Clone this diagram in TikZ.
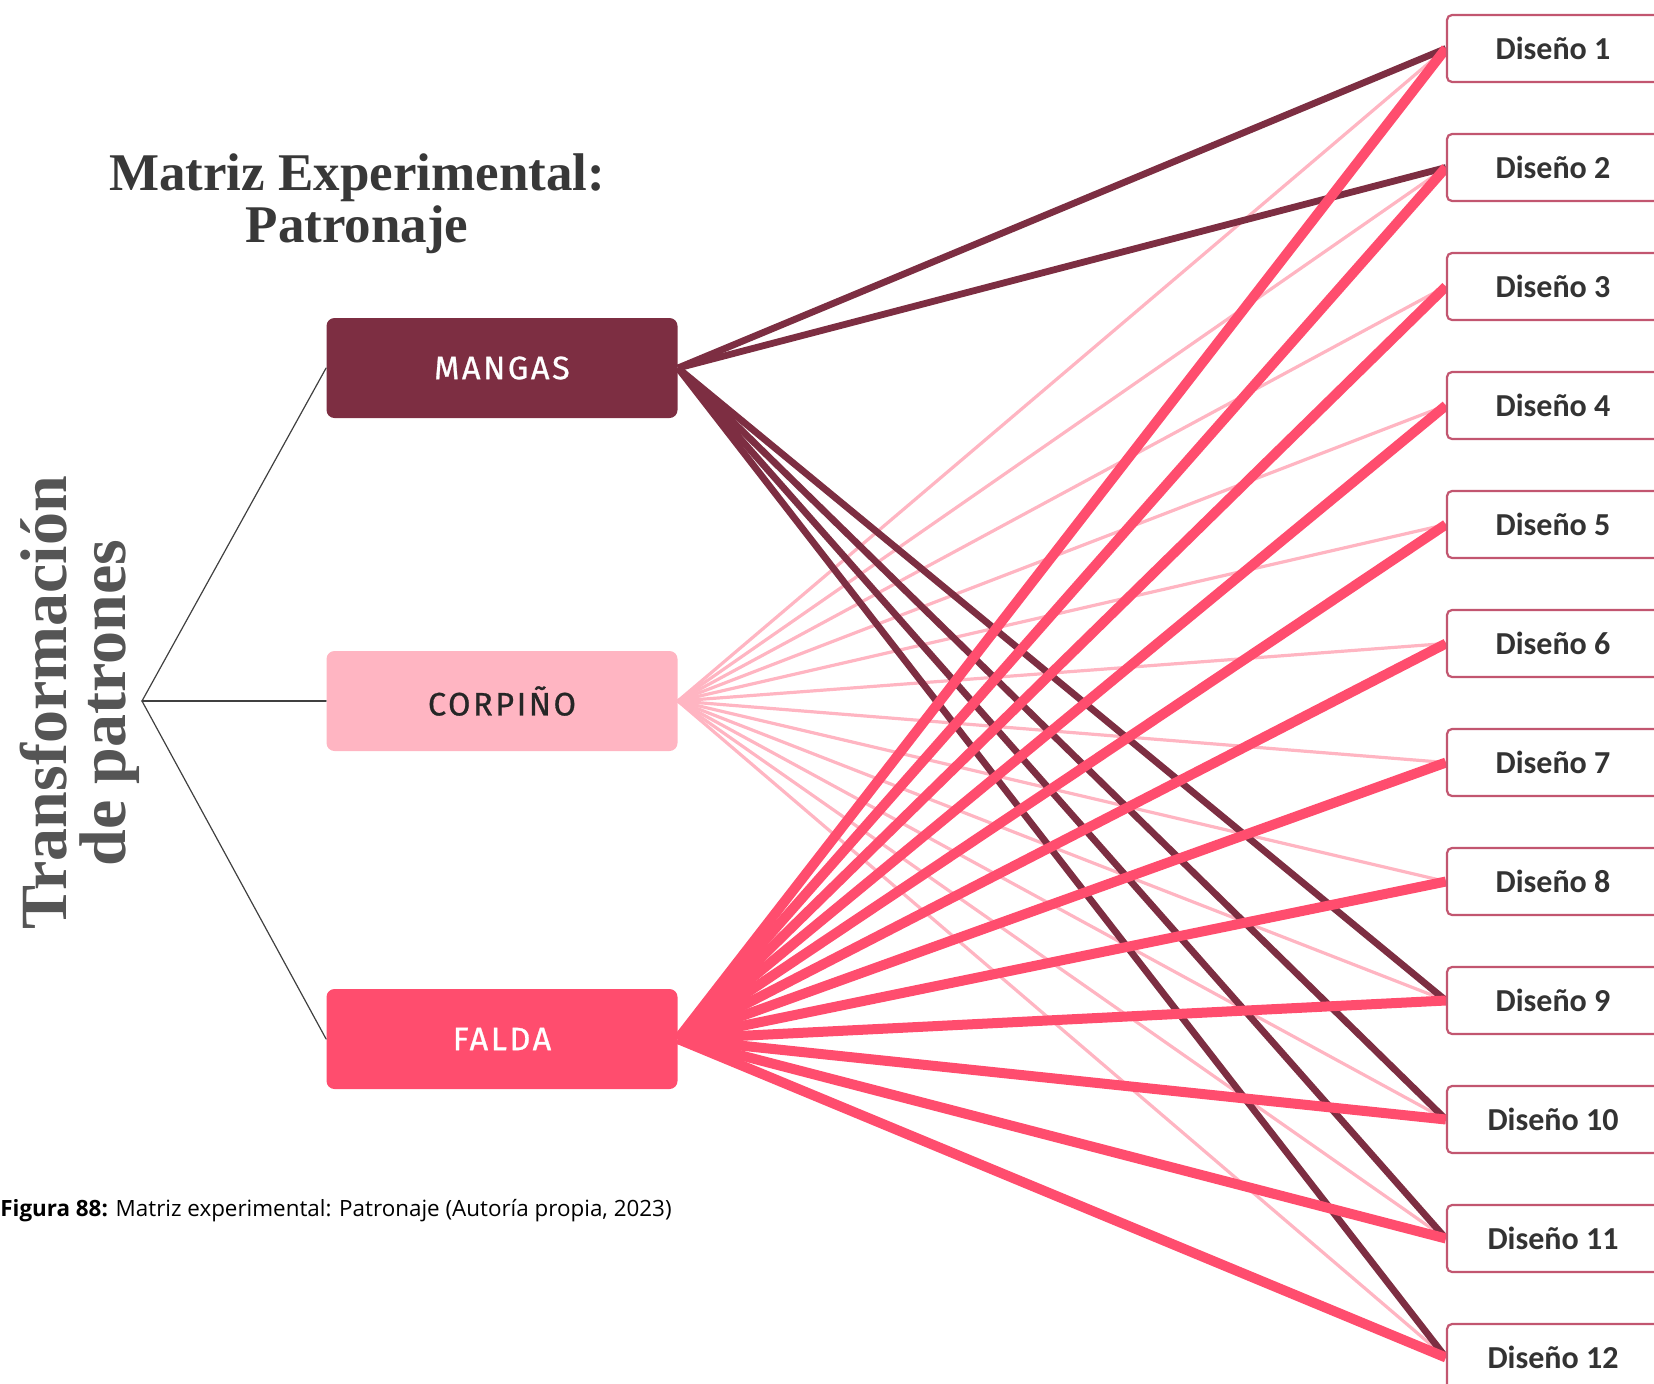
\documentclass[tikz,border=0pt]{standalone}
\usepackage{fontspec}
\setmainfont{Liberation Serif}
\newfontfamily\labelfont{Fira Sans}[LetterSpace=8, FakeBold=0.8]
\newfontfamily\designfont{Carlito}
\newfontfamily\captionfont{Open Sans}
\usetikzlibrary{backgrounds}

\definecolor{mangasred}{HTML}{7D2E42}
\definecolor{corpinopink}{HTML}{FFB5C2}
\definecolor{faldapink}{HTML}{FF4D6E}
\definecolor{designborder}{HTML}{C25670}
\definecolor{titlegray}{HTML}{383838}
\definecolor{sidegray}{HTML}{555555}

\tikzset{
  part/.style={rounded corners=4pt, minimum width=175.5pt, minimum height=50pt,
    inner sep=0pt, font=\labelfont\fontsize{16.2}{19}\selectfont},
  design/.style={draw=designborder, line width=1.1pt, fill=white, rounded corners=2.5pt,
    minimum width=106pt, minimum height=33.5pt, inner sep=0pt,
    font=\designfont\bfseries\fontsize{16}{19}\selectfont, text=black!80},
  mangasline/.style={mangasred, line width=3.4pt},
  corpinoline/.style={corpinopink, line width=1.6pt},
  faldaline/.style={faldapink, line width=5pt},
  bracket/.style={black!75, line width=0.6pt}
}

\begin{document}
\begin{tikzpicture}[x=0.5pt, y=-0.5pt, line cap=round]

  \useasboundingbox (0,0) rectangle (1654,1383);
  \clip (0,0) rectangle (1654,1383);

  % ────────────────────────────────────────────────────────────────────
  % Title and side label
  % ────────────────────────────────────────────────────────────────────
  \node[align=center, text=titlegray, font=\bfseries\fontsize{26.5}{26}\selectfont]
    (title) at (357,204) {Matriz Experimental:\\Patronaje};
  \node[rotate=90, align=center, text=sidegray, font=\bfseries\fontsize{33}{29.5}\selectfont]
    (side) at (80,703) {Transformación\\de patrones};

  % ────────────────────────────────────────────────────────────────────
  % Pattern parts (left column)
  % ────────────────────────────────────────────────────────────────────
  \node[part, fill=mangasred, text=white] (mangas) at (502,368) {MANGAS};
  \node[part, fill=corpinopink, text=black!85] (corpino) at (502,701) {CORPIÑO};
  \node[part, fill=faldapink, text=white] (falda) at (502,1039) {FALDA};

  % bracket from the side label
  \coordinate (root) at (142,701);
  \draw[bracket] (mangas.west) -- (root) -- (falda.west);
  \draw[bracket] (root) -- (corpino.west);

  % ────────────────────────────────────────────────────────────────────
  % Designs (right column), partly cut by the page edge
  % ────────────────────────────────────────────────────────────────────
  \foreach \i in {1,...,12}
    \node[design] (d\i) at (1553,{48.5+(\i-1)*119}) {Diseño \i};

  % connectors, behind the boxes
  \begin{pgfonlayer}{background}
    \foreach \i in {1,...,12}
      \draw[corpinoline] (corpino.east) -- (d\i.west);
    \foreach \i in {1,2,9,10,11,12}
      \draw[mangasline] (mangas.east) -- (d\i.west);
    \foreach \i in {1,...,12}
      \draw[faldaline] (falda.east) -- (d\i.west);
  \end{pgfonlayer}

  % ────────────────────────────────────────────────────────────────────
  % Caption
  % ────────────────────────────────────────────────────────────────────
  \node[anchor=west, inner sep=0pt, font=\captionfont\fontsize{11.2}{13}\selectfont]
    (caption) at (0,1211) {\textbf{Figura 88:} Matriz experimental: Patronaje (Autoría propia, 2023)};

\end{tikzpicture}
\end{document}
